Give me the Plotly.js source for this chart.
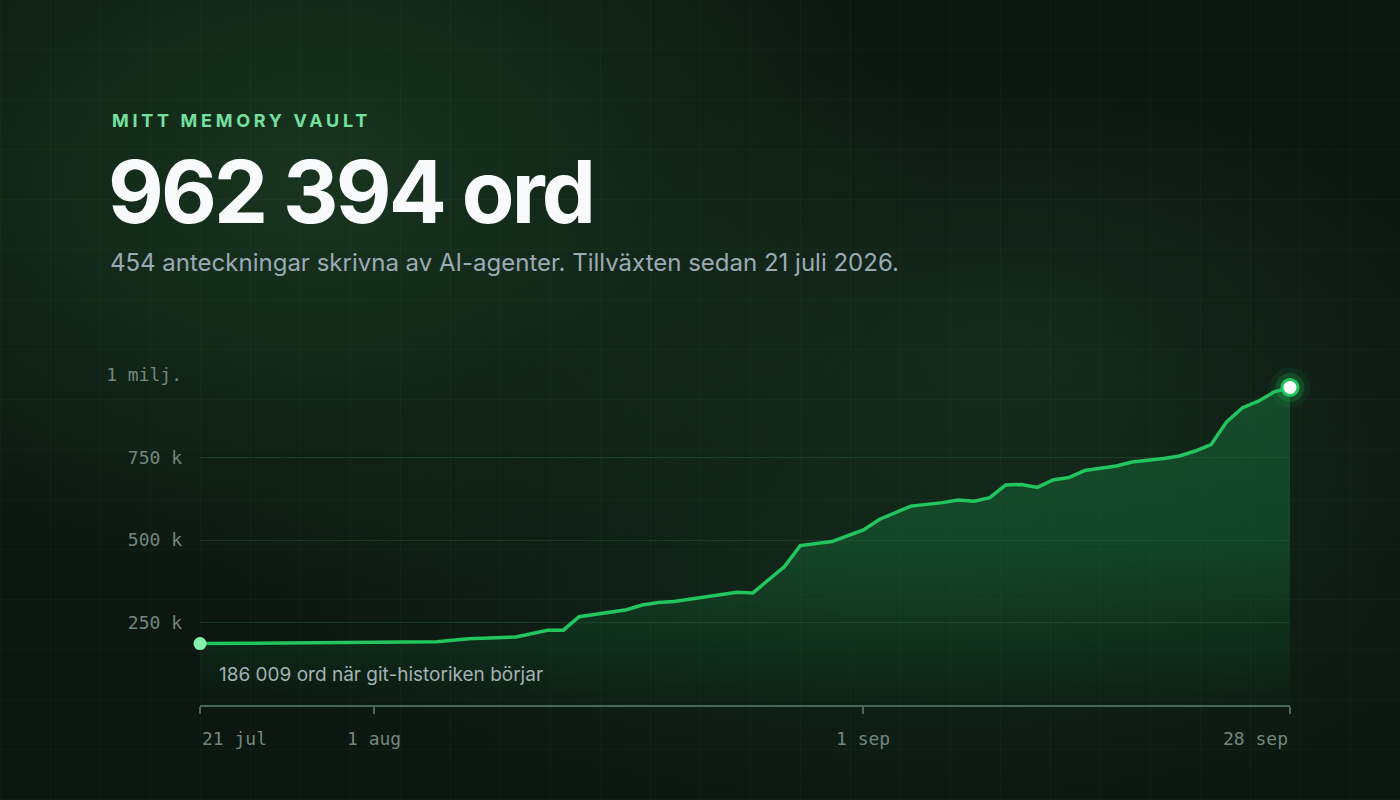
<!DOCTYPE html>
<html>
<head>
<meta charset="utf-8">
<script src="https://cdn.plot.ly/plotly-3.0.1.min.js"></script>
<style>
  html, body { margin: 0; padding: 0; }
  body {
    width: 1400px; height: 800px; overflow: hidden;
    background:
      repeating-linear-gradient(0deg, rgba(120,200,150,0.035) 0 1px, transparent 1px 50px),
      repeating-linear-gradient(90deg, rgba(120,200,150,0.035) 0 1px, transparent 1px 50px),
      radial-gradient(ellipse 620px 420px at 320px 180px, #18351f 0%, rgba(24,53,31,0) 100%),
      radial-gradient(ellipse 520px 300px at 1000px 360px, #152b1d 0%, rgba(21,43,29,0) 100%),
      radial-gradient(ellipse 700px 260px at 900px 580px, #11271a 0%, rgba(17,39,26,0) 100%),
      #0b1710;
  }
  #chart { width: 1400px; height: 800px; }
</style>
</head>
<body>
<div id="chart"></div>
<script>
// words in the vault per day
var dates = [
  '2026-07-21', '2026-07-24', '2026-07-27', '2026-07-30', '2026-08-02', '2026-08-05',
  '2026-08-07', '2026-08-10', '2026-08-12', '2026-08-13', '2026-08-14', '2026-08-17',
  '2026-08-18', '2026-08-19', '2026-08-20', '2026-08-21', '2026-08-22', '2026-08-23',
  '2026-08-24', '2026-08-25', '2026-08-26', '2026-08-27', '2026-08-28', '2026-08-30',
  '2026-09-01', '2026-09-02', '2026-09-04', '2026-09-05', '2026-09-06', '2026-09-07',
  '2026-09-08', '2026-09-09', '2026-09-10', '2026-09-11', '2026-09-12', '2026-09-13',
  '2026-09-14', '2026-09-15', '2026-09-16', '2026-09-17', '2026-09-18', '2026-09-19',
  '2026-09-20', '2026-09-21', '2026-09-22', '2026-09-23', '2026-09-24', '2026-09-25',
  '2026-09-26', '2026-09-27', '2026-09-28'
];
var words = [
  186009, 187200, 188100, 189300, 190400, 191800,
  200500, 206200, 226300, 226800, 267500, 288800,
  303000, 310500, 313400, 320000, 327000, 334000,
  341300, 339600, 378000, 419500, 483000, 495200,
  530400, 562100, 602700, 606800, 613200, 621000,
  617300, 628400, 666900, 668200, 659300, 681800,
  689200, 710400, 717100, 724300, 736400, 740600,
  747200, 754800, 769600, 788900, 858700, 900800,
  920600, 948900, 962394
];

var xTickVals = ['2026-07-21', '2026-08-01', '2026-09-01', '2026-09-28'];
var xTickText = ['21 jul', '1 aug', '1 sep', '28 sep'];
var xTickAnchor = ['left', 'center', 'center', 'right'];
var yTickVals = [250000, 500000, 750000, 1000000];
var yTickText = ['250 k', '500 k', '750 k', '1 milj.'];

var kicker = 'MITT MEMORY VAULT';
var headline = '962 394 ord';
var subline = '454 anteckningar skrivna av AI-agenter. Tillväxten sedan 21 juli 2026.';
var startNote = '186 009 ord när git-historiken börjar';

var green = '#22c55e';
var last = words.length - 1;

var data = [
  {
    x: dates, y: words,
    type: 'scatter', mode: 'lines',
    line: { color: green, width: 3.5 },
    fill: 'tozeroy',
    fillgradient: {
      type: 'vertical', start: 0, stop: 1000000,
      colorscale: [
        [0, 'rgba(22,101,52,0.02)'],
        [0.5, 'rgba(22,105,54,0.48)'],
        [1, 'rgba(22,110,56,0.55)']
      ]
    },
    hoverinfo: 'skip'
  },
  {
    x: [dates[0]], y: [words[0]],
    type: 'scatter', mode: 'markers',
    marker: { size: 13, color: '#86efac', line: { width: 0 } },
    cliponaxis: false, hoverinfo: 'skip'
  },
  {
    x: [dates[last]], y: [words[last]],
    type: 'scatter', mode: 'markers',
    marker: { size: 40, color: 'rgba(34,197,94,0.08)' },
    cliponaxis: false, hoverinfo: 'skip'
  },
  {
    x: [dates[last]], y: [words[last]],
    type: 'scatter', mode: 'markers',
    marker: { size: 29, color: 'rgba(34,197,94,0.2)' },
    cliponaxis: false, hoverinfo: 'skip'
  },
  {
    x: [dates[last]], y: [words[last]],
    type: 'scatter', mode: 'markers',
    marker: { size: 16, color: '#f8fafc', line: { color: green, width: 3 } },
    cliponaxis: false, hoverinfo: 'skip'
  }
];

var annotations = [
  {
    xref: 'paper', yref: 'paper', x: -0.0826, y: 1.7697,
    xanchor: 'left', yanchor: 'middle', showarrow: false,
    text: '<span style="letter-spacing:3.7px">' + kicker + '</span>',
    font: { family: 'Inter, sans-serif', size: 18, color: '#74e0a0', weight: 700 }
  },
  {
    xref: 'paper', yref: 'paper', x: -0.0862, y: 1.5545,
    xanchor: 'left', yanchor: 'middle', showarrow: false,
    text: '<span style="letter-spacing:-2.8px">' + headline + '</span>',
    font: { family: 'Inter, sans-serif', size: 86, color: '#f8fafc', weight: 700 }
  },
  {
    xref: 'paper', yref: 'paper', x: -0.0845, y: 1.3394,
    xanchor: 'left', yanchor: 'middle', showarrow: false,
    text: subline,
    font: { family: 'Inter, sans-serif', size: 24, color: '#9babb6' }
  },
  {
    xref: 'paper', yref: 'paper', x: 0.0155, y: 0.0939,
    xanchor: 'left', yanchor: 'middle', showarrow: false,
    text: startNote,
    font: { family: 'Inter, sans-serif', size: 19, color: '#a3b2b3' }
  }
];

for (var i = 0; i < xTickVals.length; i++) {
  annotations.push({
    xref: 'x', yref: 'paper', x: xTickVals[i], y: -0.1,
    xanchor: xTickAnchor[i], yanchor: 'middle', showarrow: false,
    text: xTickText[i],
    font: { family: 'DejaVu Sans Mono, monospace', size: 18, color: '#74877f' }
  });
}

var layout = {
  width: 1400, height: 800,
  margin: { l: 200, r: 110, t: 375, b: 95, pad: 0 },
  paper_bgcolor: 'rgba(0,0,0,0)',
  plot_bgcolor: 'rgba(0,0,0,0)',
  showlegend: false,
  xaxis: {
    type: 'date',
    range: ['2026-07-21', '2026-09-28'],
    showgrid: false, zeroline: false,
    showline: true, linecolor: '#48685a', linewidth: 2,
    tickvals: xTickVals, showticklabels: false,
    ticks: 'outside', ticklen: 7, tickwidth: 2, tickcolor: '#48685a',
    fixedrange: true
  },
  yaxis: {
    range: [0, 1000000],
    showgrid: true, gridcolor: 'rgba(70,150,95,0.22)', gridwidth: 1,
    zeroline: false, showline: false,
    tickvals: yTickVals, ticktext: yTickText,
    ticks: '', ticklabelstandoff: 17,
    tickfont: { family: 'DejaVu Sans Mono, monospace', size: 18, color: '#74877f' },
    fixedrange: true
  },
  annotations: annotations
};

var config = { displayModeBar: false, staticPlot: true };

Plotly.newPlot('chart', data, layout, config);
</script>
</body>
</html>
